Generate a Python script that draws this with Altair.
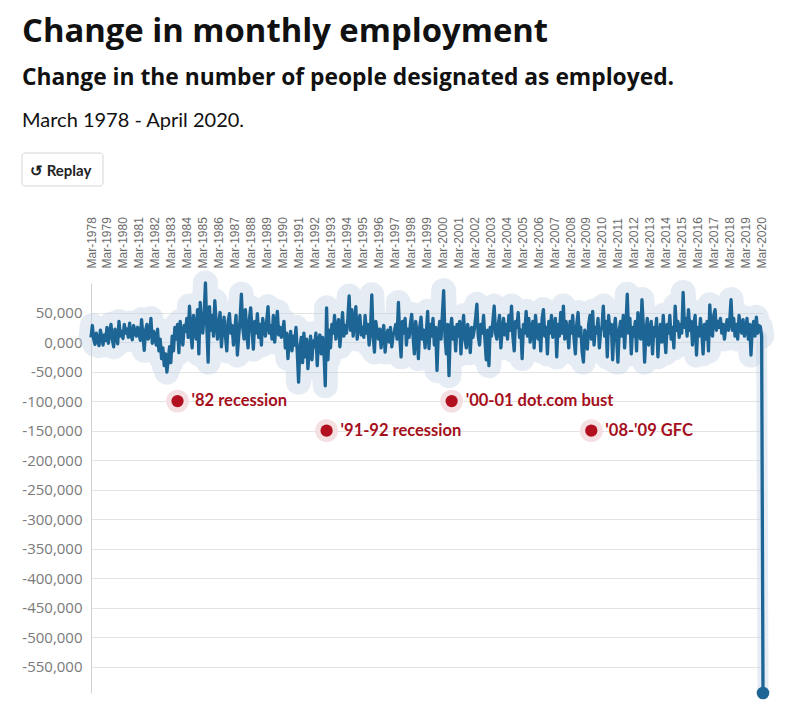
import altair as alt
import pandas as pd

# Monthly change in employed persons (thousands), March 1978 .. April 2020
# one row per year, March..February
changes_k = [
    8, 28, 5, -4, 15, 2, -6, 20, 10, -5, 12, 3,          # 1978
    25, -2, 14, 30, 5, -8, 22, 12, -3, 35, 10, 18,       # 1979
    6, 30, 15, 22, 8, 32, 12, 4, 28, 18, 10, 25,         # 1980
    15, 3, 38, 10, -14, 20, 30, 5, 12, 40, -2, 18,       # 1981
    10, -5, 22, -15, 5, -28, -10, -40, -20, -51, -30, -8,  # 1982
    -35, 10, -15, 25, 5, 30, -18, 35, 12, -5, 28, 18,    # 1983
    40, 8, 61, 15, -10, 45, 22, 5, 55, -20, 67, 30,      # 1984
    15, 48, 100, 25, -34, 60, 20, 45, 10, 70, 35, 5,     # 1985
    30, 50, -8, 25, 42, 10, -15, 35, 48, 15, 28, -5,     # 1986
    20, 45, -22, 10, 38, 81, 25, 5, 55, 15, -10, 40,     # 1987
    58, 20, -12, 35, 15, 48, 8, 30, -5, 40, 22, 10,      # 1988
    35, 60, 15, 28, 5, 45, 0, 30, 52, 12, 25, 8,         # 1989
    20, 35, -10, 15, -28, 5, 18, -15, 10, -5, 25, -20,   # 1990
    -68, -10, 8, -35, 15, -25, 5, -45, -12, 10, -30, 2,  # 1991
    -8, 15, -40, 5, 12, -20, 8, -15, -74, 58, -30, 20,   # 1992
    -10, 30, 15, 45, 5, 25, 38, -8, 20, 50, 10, 28,      # 1993
    15, 40, 78, 20, 55, 10, 35, 60, 5, 30, 45, 12,       # 1994
    25, 8, 45, 15, 30, -5, 20, 80, 10, -17, 35, 18,      # 1995
    5, 22, -10, 15, 28, -17, 10, 20, 0, 25, -8, 12,      # 1996
    18, 30, 5, 67, 10, -25, 35, 15, 40, -5, 22, 8,       # 1997
    30, 47, 10, -20, 35, 15, -28, 25, 42, 5, 20, -10,    # 1998
    15, 52, -11, 30, 10, 40, -5, 25, -48, 15, 35, 5,     # 1999
    45, 87, 10, -20, 30, -57, 20, 40, 5, 25, -15, 30,    # 2000
    10, 35, -20, 20, 45, 5, -10, 30, 15, -18, 25, 8,     # 2001
    20, 40, 64, 10, -5, 30, 15, 45, 5, -30, 20, -40,     # 2002
    25, 10, 35, 61, 15, 5, 30, 45, -10, 20, 40, 12,      # 2003
    30, 5, 45, 20, 61, 10, -15, 35, 25, 50, 8, 20,       # 2004
    -28, 30, 15, 52, 10, 40, 0, 25, 35, -10, 45, 18,     # 2005
    5, 30, -15, 40, 55, 10, 25, -20, 35, 15, 45, 8,      # 2006
    22, 40, -25, 30, 10, 50, 15, 61, 5, 35, 20, -10,     # 2007
    35, 15, 45, 5, -20, 30, 50, 10, 25, -15, -34, 20,    # 2008
    10, -12, 30, 45, 5, 52, -5, 25, 15, 40, -10, 20,     # 2009
    25, 61, 10, 35, -25, 45, 15, 30, -30, 20, 40, 5,     # 2010
    -34, 20, 35, 10, 45, -10, 30, 81, 15, 40, -20, 25,   # 2011
    10, 35, -15, 50, 20, 5, 72, 30, -34, 15, 40, -5,     # 2012
    20, 35, -20, 25, 10, 40, -25, 15, 30, 0, 45, 10,     # 2013
    -18, 30, 15, 45, 5, 25, -10, 61, 20, 35, 8, 30,      # 2014
    15, 84, 25, 40, 10, 55, 20, 35, -5, 30, 45, -22,     # 2015
    25, 10, 40, 15, -20, 30, 5, 35, -15, 63, 20, 10,     # 2016
    45, 55, 20, 35, 25, 40, 15, 30, 5, 25, 38, 20,       # 2017
    35, 72, 20, 40, 10, 30, 5, 45, 25, 15, 38, 10,       # 2018
    20, 40, 5, 30, -22, 25, 35, 10, 42, 15, 28, 26,      # 2019
    10, -594.3,                                          # Mar, Apr 2020
]

tick_years = list(range(1978, 2021))
y_ticks = list(range(-550000, 50001, 50000))

annotation_labels = ["'82 recession", "'91-92 recession", "'00-01 dot.com bust", "'08-'09 GFC"]
annotation_dates = ["1983-08-01", "1992-12-01", "2000-10-01", "2009-07-01"]
annotation_values = [-100000, -150000, -100000, -150000]

dates = pd.date_range("1978-03-01", periods=len(changes_k), freq="MS").strftime("%Y-%m-%d")
df = pd.DataFrame({"date": list(dates), "change": [v * 1000 for v in changes_k]})
body = df.iloc[:-1]
drop = df.tail(2)
last = df.tail(1)
ann = pd.DataFrame({"date": annotation_dates, "value": annotation_values, "label": annotation_labels})

y_min = float(df["change"].min())
x_scale = alt.Scale(
    type="utc",
    domain=[alt.DateTime(year=1978, month=3, date=1, utc=True),
            alt.DateTime(year=2020, month=4, date=1, utc=True)],
)
y_scale = alt.Scale(domain=[y_min, 100000], nice=False, zero=False)

x_axis = alt.Axis(
    orient="top",
    values=[alt.DateTime(year=y, month=3, date=1, utc=True) for y in tick_years],
    labelExpr="utcFormat(datum.value, '%b-%Y')",
    labelAngle=-90, labelAlign="left", labelBaseline="middle",
    ticks=False, domain=False, grid=False, labelPadding=15,
    labelFont="Liberation Sans", labelFontSize=12, labelColor="#6b6b6b",
    labelOverlap=False, labelBound=False, title=None,
)
y_axis = alt.Axis(
    values=y_ticks,
    labelExpr="datum.value == 0 ? '0,000' : (datum.value < 0 ? '-' + format(-datum.value, ',') : format(datum.value, ','))",
    grid=True, gridColor="#e3e3e3", domain=True, domainColor="#d0d0d0",
    ticks=False, labelPadding=9, labelFont="Open Sans", labelFontSize=15,
    labelColor="#7a7a7a", labelOverlap=False, labelBound=False, title=None,
)


def xy(yfield):
    return dict(
        x=alt.X("date:T", scale=x_scale, axis=x_axis),
        y=alt.Y(yfield, scale=y_scale, axis=y_axis),
    )


halo_color = "#bdd0e3"
halo = alt.Chart(body).mark_line(color=halo_color, opacity=0.4, strokeWidth=25, strokeJoin="round",
                                 strokeCap="round").encode(**xy("change:Q"))
drop_halo = alt.Chart(drop).mark_line(color=halo_color, opacity=0.4, strokeWidth=11,
                                      strokeCap="round").encode(**xy("change:Q"))
line = alt.Chart(df).mark_line(color="#1c6595", strokeWidth=3.3,
                               strokeJoin="round").encode(**xy("change:Q"))
end_dot = alt.Chart(last).mark_circle(color="#1c6595", opacity=1, size=160).encode(**xy("change:Q"))
ann_halo = alt.Chart(ann).mark_circle(color="#f4dfe2", opacity=1, size=520).encode(**xy("value:Q"))
ann_dot = alt.Chart(ann).mark_circle(color="#b3101f", opacity=1, size=150).encode(**xy("value:Q"))
ann_text = alt.Chart(ann).mark_text(
    align="left", baseline="middle", dx=14, font="Lato", fontSize=16.5, fontWeight="bold", color="#a50f1c"
).encode(text="label:N", **xy("value:Q"))

one = alt.Chart(pd.DataFrame({"k": [0]}))
title = one.mark_text(align="left", baseline="alphabetic", font="Open Sans", fontSize=32.8,
                      fontWeight="bold", color="#111111").encode(
    x=alt.value(-69), y=alt.value(-241), text=alt.value("Change in monthly employment"))
subtitle = one.mark_text(align="left", baseline="alphabetic", font="Open Sans", fontSize=22.8,
                         fontWeight="bold", color="#111111").encode(
    x=alt.value(-69), y=alt.value(-198),
    text=alt.value("Change in the number of people designated as employed."))
period = one.mark_text(align="left", baseline="alphabetic", font="Lato", fontSize=20,
                       color="#111111").encode(
    x=alt.value(-69), y=alt.value(-156), text=alt.value("March 1978 - April 2020."))
button = one.mark_rect(fill="white", stroke="#d6d6d6", strokeWidth=1, cornerRadius=3).encode(
    x=alt.value(-69), x2=alt.value(12), y=alt.value(-130), y2=alt.value(-97))
button_text = one.mark_text(align="left", baseline="alphabetic", font="Lato", fontSize=15,
                            fontWeight="bold", color="#222222").encode(
    x=alt.value(-61), y=alt.value(-107), text=alt.value("↺ Replay"))

chart = alt.layer(
    halo, drop_halo, line, end_dot, ann_halo, ann_dot, ann_text,
    title, subtitle, period, button, button_text,
).properties(
    width=672, height=410, background="white",
    padding={"left": 83, "top": 275, "right": 20, "bottom": 9},
    autosize=alt.AutoSizeParams(type="none"),
).configure_view(strokeWidth=0).configure_axisX(
    labelAngle=-90, labelAlign="left", labelBaseline="middle",
    ticks=False, domain=False, grid=False, labelPadding=15,
    labelFont="Liberation Sans", labelFontSize=12, labelColor="#6b6b6b",
    labelOverlap=False, labelBound=False,
).configure_axisY(
    grid=True, gridColor="#e3e3e3", domain=True, domainColor="#d0d0d0",
    ticks=False, labelPadding=9, labelFont="Open Sans", labelFontSize=15,
    labelColor="#7a7a7a", labelOverlap=False, labelBound=False,
)

chart.save("out.html", embed_options={"renderer": "svg", "actions": False})
